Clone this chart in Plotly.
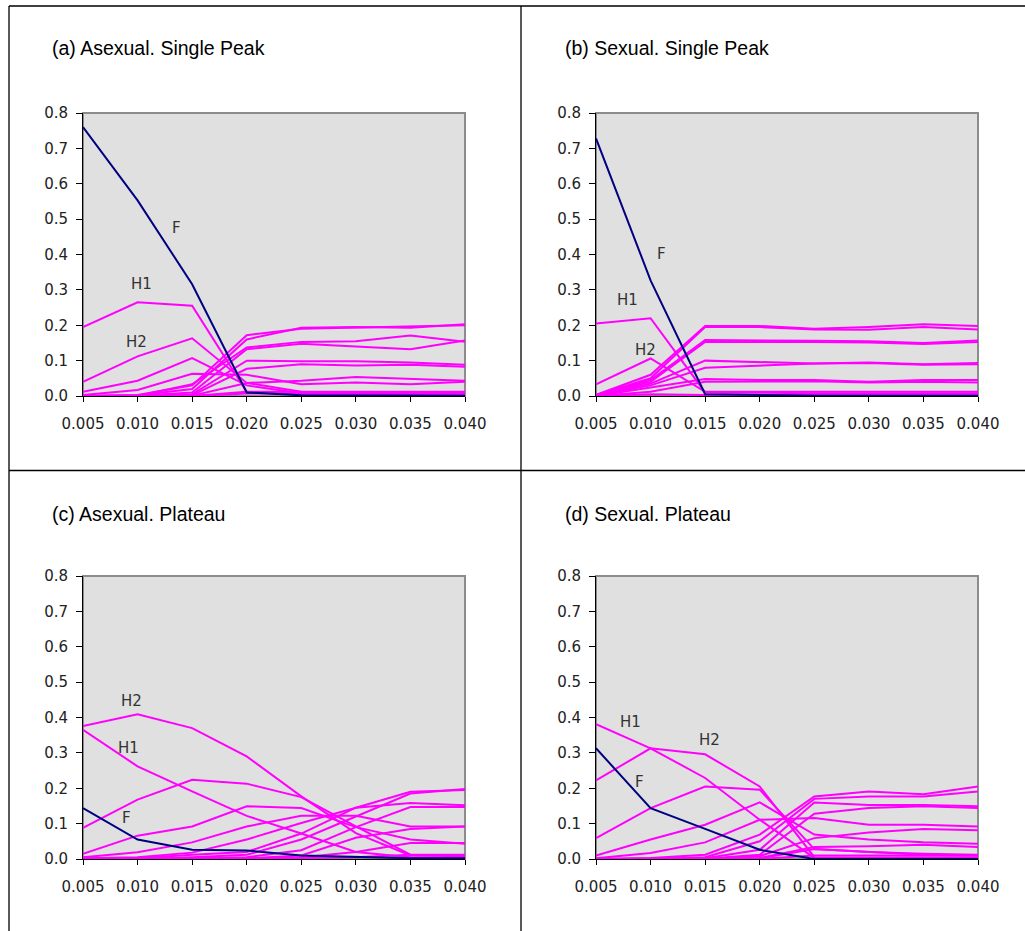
import plotly.graph_objects as go

W, H = 1025, 931

mutation_rates = [0.005, 0.010, 0.015, 0.020, 0.025, 0.030, 0.035, 0.040]
tick_labels = ["0.005", "0.010", "0.015", "0.020", "0.025", "0.030", "0.035", "0.040"]
y_ticks = [0.0, 0.1, 0.2, 0.3, 0.4, 0.5, 0.6, 0.7, 0.8]

panel_titles = ["(a) Asexual. Single Peak", "(b) Sexual. Single Peak",
                "(c) Asexual. Plateau", "(d) Sexual. Plateau"]

# ---- (a) Asexual, single peak ----
a_F = [0.760, 0.553, 0.316, 0.010, 0.002, 0.001, 0.001, 0.001]
a_H1 = [0.195, 0.265, 0.255, 0.012, 0.006, 0.005, 0.005, 0.005]
a_H2 = [0.040, 0.112, 0.163, 0.037, 0.012, 0.010, 0.010, 0.010]
a_other = [
    [0.012, 0.043, 0.107, 0.030, 0.008, 0.008, 0.008, 0.008],
    [0.003, 0.017, 0.063, 0.060, 0.033, 0.038, 0.033, 0.040],
    [0.000, 0.003, 0.030, 0.172, 0.190, 0.193, 0.195, 0.200],
    [0.000, 0.002, 0.020, 0.160, 0.193, 0.195, 0.193, 0.203],
    [0.000, 0.001, 0.033, 0.137, 0.153, 0.155, 0.171, 0.153],
    [0.000, 0.001, 0.010, 0.132, 0.148, 0.139, 0.132, 0.157],
    [0.000, 0.000, 0.005, 0.100, 0.098, 0.098, 0.095, 0.088],
    [0.000, 0.000, 0.002, 0.077, 0.090, 0.086, 0.088, 0.083],
    [0.000, 0.000, 0.001, 0.037, 0.043, 0.054, 0.049, 0.043],
    [0.000, 0.000, 0.000, 0.012, 0.012, 0.012, 0.012, 0.012],
    [0.000, 0.000, 0.000, 0.007, 0.005, 0.005, 0.004, 0.004],
]

# ---- (b) Sexual, single peak ----
b_F = [0.728, 0.327, 0.005, 0.002, 0.001, 0.001, 0.001, 0.001]
b_H1 = [0.205, 0.220, 0.010, 0.008, 0.008, 0.008, 0.008, 0.008]
b_H2 = [0.033, 0.106, 0.012, 0.012, 0.012, 0.012, 0.013, 0.012]
b_other = [
    [0.003, 0.060, 0.198, 0.198, 0.190, 0.195, 0.203, 0.198],
    [0.002, 0.050, 0.195, 0.195, 0.188, 0.187, 0.195, 0.188],
    [0.002, 0.045, 0.158, 0.158, 0.156, 0.155, 0.150, 0.157],
    [0.001, 0.040, 0.153, 0.154, 0.153, 0.151, 0.147, 0.153],
    [0.001, 0.035, 0.100, 0.095, 0.092, 0.095, 0.090, 0.093],
    [0.001, 0.030, 0.080, 0.085, 0.092, 0.093, 0.088, 0.090],
    [0.000, 0.025, 0.048, 0.045, 0.045, 0.040, 0.045, 0.045],
    [0.000, 0.012, 0.040, 0.042, 0.042, 0.038, 0.040, 0.038],
    [0.000, 0.005, 0.003, 0.003, 0.003, 0.003, 0.003, 0.003],
]

# ---- (c) Asexual, plateau ----
c_F = [0.144, 0.055, 0.026, 0.024, 0.010, 0.005, 0.002, 0.002]
c_H1 = [0.365, 0.262, 0.191, 0.122, 0.072, 0.020, 0.005, 0.003]
c_H2 = [0.376, 0.409, 0.370, 0.290, 0.177, 0.073, 0.010, 0.008]
c_other = [
    [0.088, 0.168, 0.224, 0.213, 0.175, 0.092, 0.012, 0.010],
    [0.015, 0.066, 0.092, 0.149, 0.144, 0.090, 0.055, 0.043],
    [0.005, 0.019, 0.047, 0.092, 0.122, 0.122, 0.092, 0.092],
    [0.002, 0.005, 0.018, 0.055, 0.102, 0.145, 0.158, 0.152],
    [0.001, 0.002, 0.012, 0.020, 0.072, 0.145, 0.190, 0.195],
    [0.000, 0.001, 0.005, 0.012, 0.055, 0.120, 0.185, 0.198],
    [0.000, 0.000, 0.002, 0.005, 0.025, 0.090, 0.147, 0.147],
    [0.000, 0.000, 0.000, 0.002, 0.010, 0.060, 0.085, 0.092],
    [0.000, 0.000, 0.000, 0.001, 0.005, 0.020, 0.045, 0.045],
    [0.000, 0.000, 0.000, 0.000, 0.002, 0.005, 0.012, 0.012],
]

# ---- (d) Sexual, plateau ----
d_F = [0.313, 0.144, 0.085, 0.026, 0.000, 0.000, 0.000, 0.000]
d_H1 = [0.381, 0.313, 0.229, 0.111, 0.003, 0.002, 0.002, 0.002]
d_H2 = [0.222, 0.313, 0.296, 0.205, 0.005, 0.004, 0.004, 0.004]
d_other = [
    [0.059, 0.144, 0.205, 0.196, 0.028, 0.020, 0.015, 0.012],
    [0.010, 0.055, 0.097, 0.160, 0.069, 0.055, 0.047, 0.043],
    [0.002, 0.017, 0.047, 0.111, 0.116, 0.097, 0.097, 0.092],
    [0.000, 0.003, 0.012, 0.069, 0.177, 0.191, 0.183, 0.205],
    [0.000, 0.001, 0.005, 0.050, 0.170, 0.177, 0.177, 0.191],
    [0.000, 0.000, 0.002, 0.026, 0.160, 0.153, 0.153, 0.149],
    [0.000, 0.000, 0.001, 0.012, 0.128, 0.144, 0.149, 0.144],
    [0.000, 0.000, 0.000, 0.008, 0.059, 0.075, 0.085, 0.081],
    [0.000, 0.000, 0.000, 0.003, 0.034, 0.036, 0.040, 0.034],
    [0.000, 0.000, 0.000, 0.002, 0.028, 0.020, 0.012, 0.010],
    [0.000, 0.000, 0.000, 0.000, 0.010, 0.010, 0.010, 0.010],
]

# label positions (x, y) for F, H1, H2 in each panel
a_labels = {"F": (0.0136, 0.475), "H1": (0.0104, 0.317), "H2": (0.0099, 0.153)}
b_labels = {"F": (0.0110, 0.400), "H1": (0.0079, 0.271), "H2": (0.0095, 0.130)}
c_labels = {"F": (0.0090, 0.116), "H1": (0.0092, 0.314), "H2": (0.0094, 0.447)}
d_labels = {"F": (0.0090, 0.218), "H1": (0.0082, 0.387), "H2": (0.0154, 0.336)}

panels = [
    (a_F, a_H1, a_H2, a_other, a_labels),
    (b_F, b_H1, b_H2, b_other, b_labels),
    (c_F, c_H1, c_H2, c_other, c_labels),
    (d_F, d_H1, d_H2, d_other, d_labels),
]

# plot-area pixel boxes (left, right, top, bottom)
boxes = [(83, 465, 113, 396), (596, 978, 113, 396),
         (83, 465, 576, 859), (596, 978, 576, 859)]
title_pos = [(50, 48), (563, 48), (50, 514), (563, 514)]

MAGENTA = "#FF00FF"
NAVY = "#000080"
TICKFONT = dict(family="DejaVu Sans", size=15, color="#222222")

fig = go.Figure()
layout = dict(width=W, height=H, margin=dict(l=0, r=0, t=0, b=0, pad=0, autoexpand=False),
              paper_bgcolor="white", plot_bgcolor="#E0E0E0", showlegend=False)
shapes = []
annotations = []

for i, (F, H1, H2, other, labels) in enumerate(panels):
    n = i + 1
    xa = "x" if n == 1 else f"x{n}"
    ya = "y" if n == 1 else f"y{n}"
    left, right, top, bottom = boxes[i]
    layout["xaxis" if n == 1 else f"xaxis{n}"] = dict(
        domain=[left / W, right / W], anchor=ya, range=[0.005, 0.040],
        tickvals=mutation_rates, ticktext=tick_labels, tickfont=TICKFONT,
        showgrid=False, zeroline=False, showline=True, linecolor="black",
        linewidth=1, ticks="outside", ticklen=5, tickcolor="black",
        ticklabelstandoff=9, automargin=False)
    layout["yaxis" if n == 1 else f"yaxis{n}"] = dict(
        domain=[1 - bottom / H, 1 - top / H], anchor=xa, range=[0, 0.8],
        tickvals=y_ticks, ticktext=[f"{v:.1f}" for v in y_ticks], tickfont=TICKFONT,
        showgrid=False, zeroline=False, showline=True, linecolor="black",
        linewidth=1, ticks="outside", ticklen=6, tickcolor="black",
        ticklabelstandoff=5, automargin=False)
    for series in [H1, H2] + other:
        fig.add_trace(go.Scatter(x=mutation_rates, y=series, mode="lines",
                                 line=dict(color=MAGENTA, width=2),
                                 xaxis=xa, yaxis=ya, hoverinfo="skip"))
    fig.add_trace(go.Scatter(x=mutation_rates, y=F, mode="lines",
                             line=dict(color=NAVY, width=2),
                             xaxis=xa, yaxis=ya, hoverinfo="skip"))
    shapes.append(dict(type="rect", xref=f"{xa} domain", yref=f"{ya} domain",
                       x0=0, x1=1, y0=0, y1=1, line=dict(color="#8C8C8C", width=2),
                       layer="below"))
    for name, (lx, ly) in labels.items():
        annotations.append(dict(x=lx, y=ly, xref=xa, yref=ya, text=name,
                                showarrow=False,
                                font=dict(family="DejaVu Sans", size=15, color="#333333")))
    tx, ty = title_pos[i]
    annotations.append(dict(x=tx / W, y=1 - ty / H, xref="paper", yref="paper",
                            text=panel_titles[i], showarrow=False, xanchor="left",
                            yanchor="middle",
                            font=dict(family="Liberation Sans", size=19.5, color="black")))

line_style = dict(color="black", width=1.3)
shapes += [
    dict(type="line", xref="paper", yref="paper", x0=9 / W, x1=9 / W, y0=0, y1=1 - 6 / H, line=line_style),
    dict(type="line", xref="paper", yref="paper", x0=9 / W, x1=1, y0=1 - 6 / H, y1=1 - 6 / H, line=line_style),
    dict(type="line", xref="paper", yref="paper", x0=521 / W, x1=521 / W, y0=0, y1=1 - 6 / H, line=line_style),
    dict(type="line", xref="paper", yref="paper", x0=9 / W, x1=1, y0=1 - 470.5 / H, y1=1 - 470.5 / H, line=line_style),
]
layout["shapes"] = shapes
layout["annotations"] = annotations
fig.update_layout(**layout)
fig.write_html("out.html", config={"displayModeBar": False},
               post_script="document.body.style.margin='0';")
